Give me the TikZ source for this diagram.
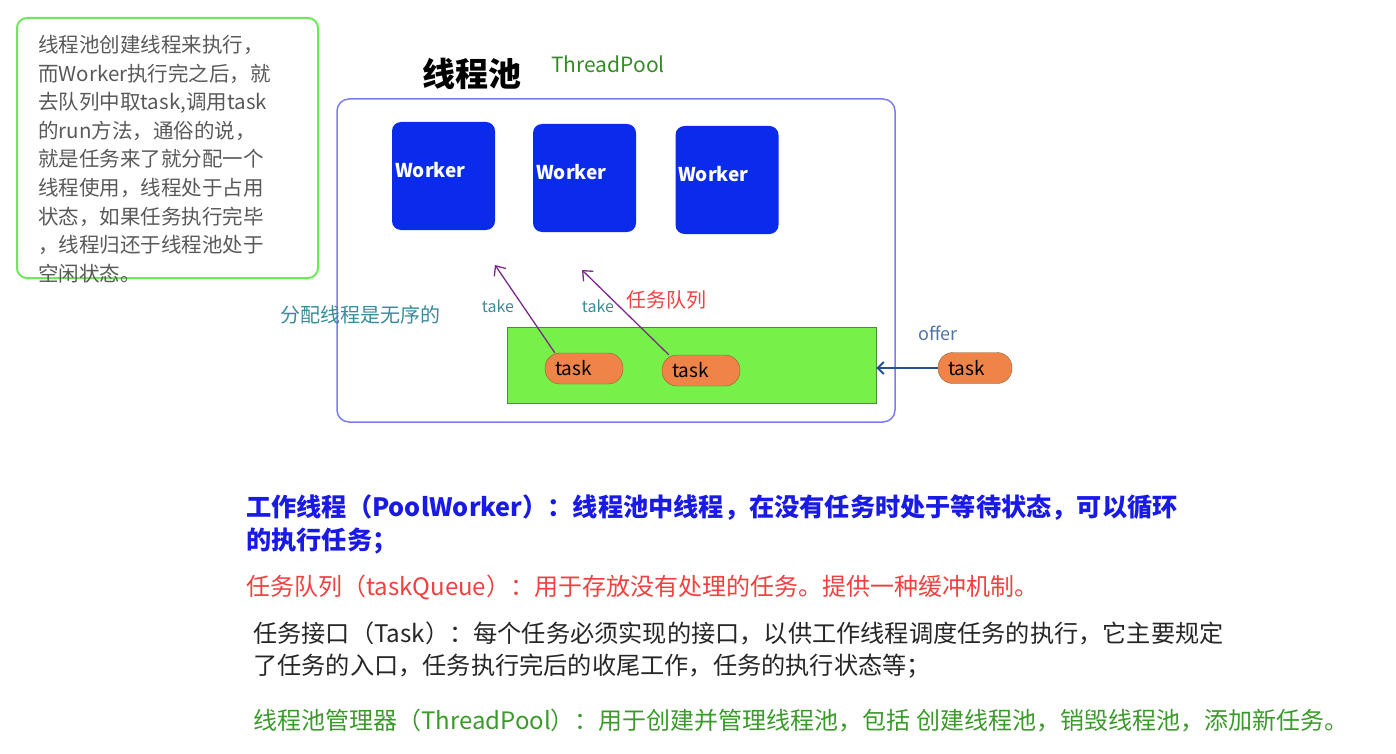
\documentclass[tikz,border=0pt]{standalone}
\usepackage{fontspec}
\setmainfont{Noto Sans CJK SC}
\usepackage{xcolor}
\definecolor{poolBlue}{HTML}{7B7BF5}
\definecolor{workerBlue}{HTML}{0A2BEB}
\definecolor{noteGreen}{HTML}{6EE85A}
\definecolor{queueGreen}{HTML}{77F04A}
\definecolor{queueEdge}{HTML}{4A8A3A}
\definecolor{taskOrange}{HTML}{EE8448}
\definecolor{taskEdge}{HTML}{9A5A30}
\definecolor{takePurple}{HTML}{7B2A8C}
\definecolor{takeTeal}{HTML}{3A8A9A}
\definecolor{offerBlue}{HTML}{27508F}
\definecolor{descBlue}{HTML}{1A1AE6}
\definecolor{descRed}{HTML}{F04040}
\definecolor{descGreen}{HTML}{3A9A2A}
\usetikzlibrary{arrows.meta}

\newcommand{\fs}[1]{\fontsize{#1}{#1}\selectfont}

\begin{document}
\begin{tikzpicture}[x=1pt, y=-1pt,
    notebox/.style={draw=noteGreen, line width=2pt, rounded corners=10pt,
                    minimum width=301pt, minimum height=260pt, inner sep=0pt},
    notetext/.style={text=black!65, align=left, inner sep=0pt,
                     font=\fontsize{20.5}{28.6}\selectfont},
    poolbox/.style={draw=poolBlue, line width=1.5pt, rounded corners=12pt,
                    minimum width=558pt, minimum height=323pt, inner sep=0pt},
    workerbox/.style={fill=workerBlue, rounded corners=9pt,
                      minimum width=103pt, minimum height=108pt, inner sep=0pt},
    workertext/.style={text=white, anchor=west, inner sep=0pt,
                       font=\bfseries\fs{19}},
    queuebox/.style={draw=queueEdge, fill=queueGreen, line width=0.8pt,
                     minimum width=369pt, minimum height=76pt, inner sep=0pt},
    taskpill/.style={draw=taskEdge, fill=taskOrange, rounded corners=15pt,
                     minimum height=31pt, inner xsep=10pt, inner ysep=0pt,
                     align=left, font=\fs{19}},
    takearr/.style={draw=takePurple, line width=1.3pt,
                    -{Straight Barb[length=8pt, width=14pt]}},
    offerarr/.style={draw=offerBlue, line width=2pt,
                     -{Straight Barb[length=6pt, width=12pt]}},
    desc/.style={anchor=north west, align=left, inner sep=0pt}]
  \useasboundingbox (0,0) rectangle (1396,754);

  % note on the left
  \node[notebox] (notebox) at (167.5,148) {};
  \node[notetext, anchor=north west] (note) at (38,35)
    {线程池创建线程来执行，\\而Worker执行完之后，就\\去队列中取task,调用task\\的run方法，通俗的说，\\
     就是任务来了就分配一个\\线程使用，线程处于占用\\状态，如果任务执行完毕\\，线程归还于线程池处于\\空闲状态。};

  % the pool
  \node[poolbox] (pool) at (616,260.5) {};
  \node[font=\bfseries\fs{33}] (title) at (472,74) {线程池};
  \node[text=descGreen!90!black, font=\fs{21}] (poolname) at (608,64) {ThreadPool};

  \node[workerbox] (w1) at (443.5,176) {};
  \node[workerbox] (w2) at (584.5,178) {};
  \node[workerbox] (w3) at (727,180) {};
  \node[workertext] (w1t) at (395,170) {Worker};
  \node[workertext] (w2t) at (536,172) {Worker};
  \node[workertext] (w3t) at (678,174) {Worker};

  \node[queuebox] (queue) at (691.5,365) {};
  \node[taskpill, text width=58pt] (t1) at (584,368.5) {task};
  \node[taskpill, text width=58pt] (t2) at (701,370.5) {task};
  \node[taskpill, text width=54pt] (t3) at (975,368) {task};

  \coordinate (pick1) at (495,265);
  \coordinate (pick2) at (582,270);
  \draw[takearr] ([xshift=10pt]t1.north west) -- (pick1);
  \draw[takearr] ([xshift=7pt]t2.north west) -- (pick2);
  \node[text=takeTeal, font=\fs{16}] (take1) at (498,306) {take};
  \node[text=takeTeal, font=\fs{16}] (take2) at (598,306) {take};
  \node[text=descRed, font=\fs{20}] (qlabel) at (666,300) {任务队列};
  \node[text=takeTeal, font=\fs{20}] (order) at (360,315) {分配线程是无序的};

  \draw[offerarr] (t3.west) -- (queue.east |- t3.west);
  \node[text=offerBlue!80, font=\fs{18}] (offer) at (938,333) {offer};

  % descriptions
  \node[desc, text=descBlue, font=\bfseries\fontsize{25.2}{33}\selectfont] (d1) at (246,494)
    {工作线程（PoolWorker）：线程池中线程，在没有任务时处于等待状态，可以循环\\的执行任务；};
  \node[desc, text=descRed, font=\fs{24}] (d2) at (246,575)
    {任务队列（taskQueue）：用于存放没有处理的任务。提供一种缓冲机制。};
  \node[desc, text=black!85, font=\fontsize{24.2}{32}\selectfont] (d3) at (253,622)
    {任务接口（Task）：每个任务必须实现的接口，以供工作线程调度任务的执行，它主要规定\\了任务的入口，任务执行完后的收尾工作，任务的执行状态等；};
  \node[desc, text=descGreen, font=\fs{24}] (d4) at (253,709)
    {线程池管理器（ThreadPool）：用于创建并管理线程池，包括 创建线程池，销毁线程池，添加新任务。};
\end{tikzpicture}
\end{document}
